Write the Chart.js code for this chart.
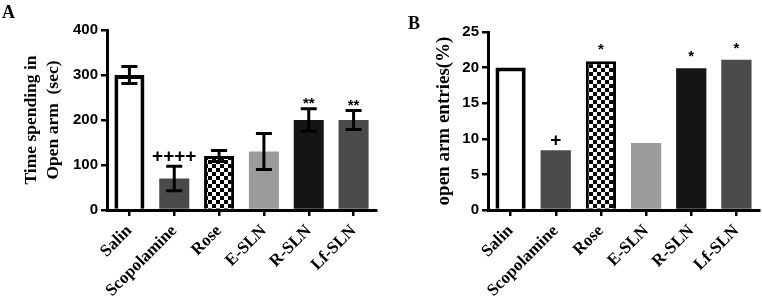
<!DOCTYPE html>
<html>
<head>
<meta charset="utf-8">
<script src="https://cdn.jsdelivr.net/npm/chart.js@4.4.0/dist/chart.umd.min.js"></script>
<style>
  html, body { margin: 0; padding: 0; background: #fff; }
  #wrap { position: relative; width: 762px; height: 296px; overflow: hidden; }
  .cv { position: absolute; top: 0; width: 381px; height: 296px; }
  .panel { position: absolute; font-family: "Liberation Serif", serif; font-weight: bold; font-size: 18px; color: #000; line-height: 1; }
</style>
</head>
<body>
<div id="wrap">
  <div class="cv" style="left:0"><canvas id="cA" width="381" height="296"></canvas></div>
  <div class="cv" style="left:381px"><canvas id="cB" width="381" height="296"></canvas></div>
  <div class="panel" style="left:2px; top:3px;">A</div>
  <div class="panel" style="left:408px; top:14px;">B</div>
</div>
<script>
// ---- data ----
const categories = ['Salin', 'Scopolamine', 'Rose', 'E-SLN', 'R-SLN', 'Lf-SLN'];
const timeOpenArm = [300, 70, 120, 130, 200, 200];
const timeOpenArmErr = [19, 27, 12, 40, 25, 21];
const timeAnnot = ['', '++++', '', '', '**', '**'];
const entriesPct = [20.0, 8.4, 20.9, 9.4, 19.9, 21.1];
const entriesAnnot = ['', '+', '*', '', '*', '*'];
const ticksA = [0, 100, 200, 300, 400];
const ticksB = [0, 5, 10, 15, 20, 25];

// ---- styles ----
function checker() {
  const c = document.createElement('canvas');
  c.width = 8; c.height = 8;
  const g = c.getContext('2d');
  g.fillStyle = '#fff'; g.fillRect(0, 0, 8, 8);
  g.fillStyle = '#000'; g.fillRect(0, 0, 4, 4); g.fillRect(4, 4, 4, 4);
  return g.createPattern(c, 'repeat');
}
const pat = checker();
const fills = ['#ffffff', '#4a4a4a', pat, '#9b9b9b', '#151515', '#4b4b4b'];
const borderW = [4, 0, 3, 0, 0, 0];

const errPlugin = {
  id: 'errbars',
  afterDatasetsDraw(chart, args, opts) {
    const ctx = chart.ctx;
    const meta = chart.getDatasetMeta(0);
    const y = chart.scales.y;
    const vals = chart.data.datasets[0].data;
    const errs = opts.errors || [];
    const ann = opts.annot || [];
    ctx.save();
    meta.data.forEach((bar, i) => {
      const v = vals[i];
      const e = errs[i] || 0;
      const x = bar.x;
      let topPix = y.getPixelForValue(v);
      if (e > 0) {
        const yt = y.getPixelForValue(v + e);
        const yb = y.getPixelForValue(v - e);
        ctx.strokeStyle = '#000';
        ctx.lineWidth = 3;
        ctx.lineCap = 'butt';
        ctx.beginPath();
        ctx.moveTo(x, yt); ctx.lineTo(x, yb);
        ctx.moveTo(x - 8, yt); ctx.lineTo(x + 8, yt);
        ctx.moveTo(x - 8, yb); ctx.lineTo(x + 8, yb);
        ctx.stroke();
        topPix = yt;
      }
      const a = ann[i];
      if (a) {
        ctx.fillStyle = '#000';
        ctx.textAlign = 'center';
        ctx.textBaseline = 'alphabetic';
        if (a.indexOf('+') >= 0) {
          ctx.font = 'bold 19px "Liberation Sans", Arial, sans-serif';
          ctx.fillText(a, x, topPix - 4);
        } else {
          ctx.font = 'bold 15px "Liberation Sans", Arial, sans-serif';
          ctx.fillText(a, x, topPix - 1 + (opts.starOff || 0));
        }
      }
    });
    ctx.restore();
  }
};

function makeChart(id, values, errs, annot, ticks, maxY, title, titleFont, titlePad, padTop, padRight, yWidth, starOff) {
  return new Chart(document.getElementById(id), {
    type: 'bar',
    data: {
      labels: categories,
      datasets: [{
        data: values,
        backgroundColor: fills,
        borderColor: '#000',
        borderWidth: borderW,
        borderSkipped: 'bottom',
        barPercentage: 0.67,
        categoryPercentage: 1.0
      }]
    },
    plugins: [errPlugin],
    options: {
      responsive: false,
      animation: false,
      devicePixelRatio: 1,
      layout: { padding: { top: padTop, right: padRight, left: 0, bottom: 0 } },
      plugins: {
        legend: { display: false },
        tooltip: { enabled: false },
        errbars: { errors: errs, annot: annot, starOff: starOff }
      },
      scales: {
        x: {
          offset: true,
          grid: { display: true, drawOnChartArea: false, drawTicks: true, tickLength: 6, color: '#000', lineWidth: 2.5, offset: false },
          border: { display: true, color: '#000', width: 3 },
          ticks: {
            color: '#000',
            font: { family: '"Liberation Serif", "Times New Roman", serif', weight: 'bold', size: 17 },
            minRotation: 45, maxRotation: 45, padding: 5, autoSkip: false
          },
          afterFit(s) { s.height = 86; }
        },
        y: {
          min: 0, max: maxY,
          afterBuildTicks(s) { s.ticks = ticks.map(v => ({ value: v })); },
          grid: { display: true, drawOnChartArea: false, drawTicks: true, tickLength: 6, color: '#000', lineWidth: 2.5 },
          border: { display: true, color: '#000', width: 3 },
          ticks: {
            color: '#000',
            font: { family: '"Liberation Sans", Arial, sans-serif', weight: 'bold', size: 15 },
            padding: 3
          },
          title: {
            display: true,
            text: title,
            color: '#000',
            font: { family: '"Liberation Serif", "Times New Roman", serif', weight: 'bold', size: titleFont, lineHeight: 1.22 },
            padding: { top: titlePad, bottom: 0 }
          },
          afterFit(s) { s.width = yWidth; }
        }
      }
    }
  });
}

makeChart('cA', timeOpenArm, timeOpenArmErr, timeAnnot, ticksA, 400,
  ['Time spending in', 'Open arm  (sec)'], 17.5, 21, 30, 5, 107, 0);
makeChart('cB', entriesPct, [], entriesAnnot, ticksB, 25,
  'open arm entries(%)', 19, 52, 32, 3, 107, -6);
</script>
</body>
</html>
